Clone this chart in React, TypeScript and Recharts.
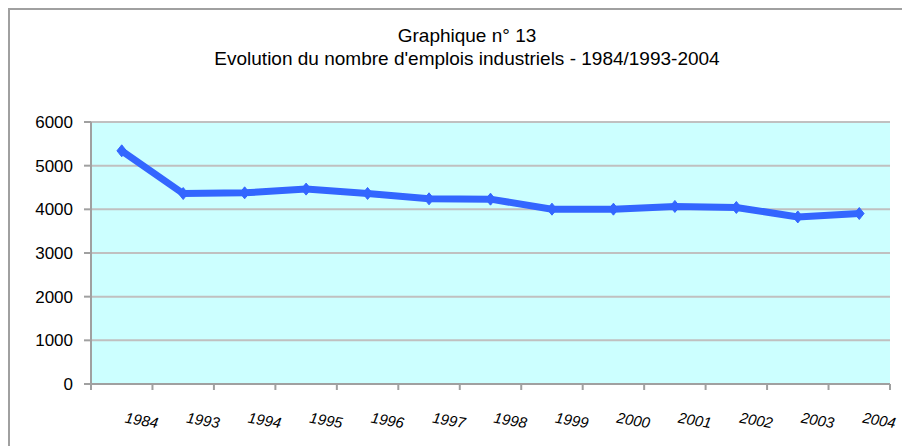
import React from 'react';
import { LineChart, Line, XAxis, YAxis, CartesianGrid } from 'recharts';

const years = ['1984', '1993', '1994', '1995', '1996', '1997', '1998', '1999', '2000', '2001', '2002', '2003', '2004'];
const emplois = [5340, 4362, 4378, 4463, 4364, 4241, 4233, 4004, 4004, 4066, 4043, 3826, 3904];
const yTicks = [0, 1000, 2000, 3000, 4000, 5000, 6000];
const titleLines = ['Graphique n° 13', "Evolution du nombre d'emplois industriels - 1984/1993-2004"];

const data = years.map((year, i) => ({ year, emplois: emplois[i] }));

const W = 902;
const H = 438;
const margin = { top: 114, right: 20, bottom: 22, left: 23 };
const Y_W = 60;
const X_H = 40;
const PLOT_W = W - margin.left - margin.right - Y_W;
const BAND = PLOT_W / years.length;
const AXIS_Y = H - margin.bottom - X_H;
const FONT = '"Liberation Sans", Arial, sans-serif';
const AXIS_COLOR = '#A0A0A0';

const XTick = (props: any) => {
  const { x, index, payload } = props;
  const left = x - BAND / 2;
  const right = x + BAND / 2;
  return (
    <g>
      <line x1={left} x2={left} y1={AXIS_Y} y2={AXIS_Y + 6} stroke={AXIS_COLOR} strokeWidth={2} />
      {index === years.length - 1 && (
        <line x1={right} x2={right} y1={AXIS_Y} y2={AXIS_Y + 6} stroke={AXIS_COLOR} strokeWidth={2} />
      )}
      <text
        x={x + 20}
        y={AXIS_Y + 36}
        textAnchor="middle"
        dominantBaseline="central"
        fontFamily={FONT}
        fontSize={15}
        fontStyle="italic"
        fill="#000"
        transform={`rotate(10, ${x + 20}, ${AXIS_Y + 36})`}
      >
        {payload.value}
      </text>
    </g>
  );
};

const Diamond = (props: any) => {
  const { cx, cy } = props;
  if (cx == null || cy == null) return null;
  const r = 6;
  return (
    <polygon
      points={`${cx},${cy - r} ${cx + r * 0.8},${cy} ${cx},${cy + r} ${cx - r * 0.8},${cy}`}
      fill="#3366FF"
      stroke="#3366FF"
    />
  );
};

export default function App() {
  return (
    <div
      style={{
        position: 'relative',
        width: W,
        height: H,
        boxSizing: 'border-box',
        borderLeft: `2px solid ${AXIS_COLOR}`,
        borderTop: `2px solid ${AXIS_COLOR}`,
        background: '#fff',
      }}
    >
      <div
        style={{
          position: 'absolute',
          left: 467 - 8 - 2 - 300,
          top: 13.5,
          width: 600,
          textAlign: 'center',
          fontFamily: FONT,
          fontSize: 19,
          lineHeight: '23px',
          color: '#000',
          zIndex: 2,
        }}
      >
        {titleLines.map((t) => (
          <div key={t}>{t}</div>
        ))}
      </div>
      <div style={{ position: 'absolute', left: -2, top: -2 }}>
        <LineChart width={W} height={H} data={data} margin={margin}>
          <CartesianGrid
            horizontal={true}
            vertical={false}
            stroke="#C0C0C0"
            strokeWidth={2}
            fill="#CCFFFF"
            fillOpacity={1}
          />
          <XAxis
            dataKey="year"
            scale="band"
            height={X_H}
            interval={0}
            tickLine={false}
            axisLine={{ stroke: AXIS_COLOR, strokeWidth: 2 }}
            tick={<XTick />}
          />
          <YAxis
            width={Y_W}
            domain={[0, 6000]}
            ticks={yTicks}
            interval={0}
            tickSize={7}
            tickMargin={11}
            axisLine={{ stroke: AXIS_COLOR, strokeWidth: 2 }}
            tickLine={{ stroke: AXIS_COLOR, strokeWidth: 2 }}
            tick={{ fill: '#000', fontSize: 17, fontFamily: FONT }}
          />
          <Line
            type="linear"
            dataKey="emplois"
            stroke="#3366FF"
            strokeWidth={7}
            dot={<Diamond />}
            activeDot={false}
            isAnimationActive={false}
          />
        </LineChart>
      </div>
    </div>
  );
}
